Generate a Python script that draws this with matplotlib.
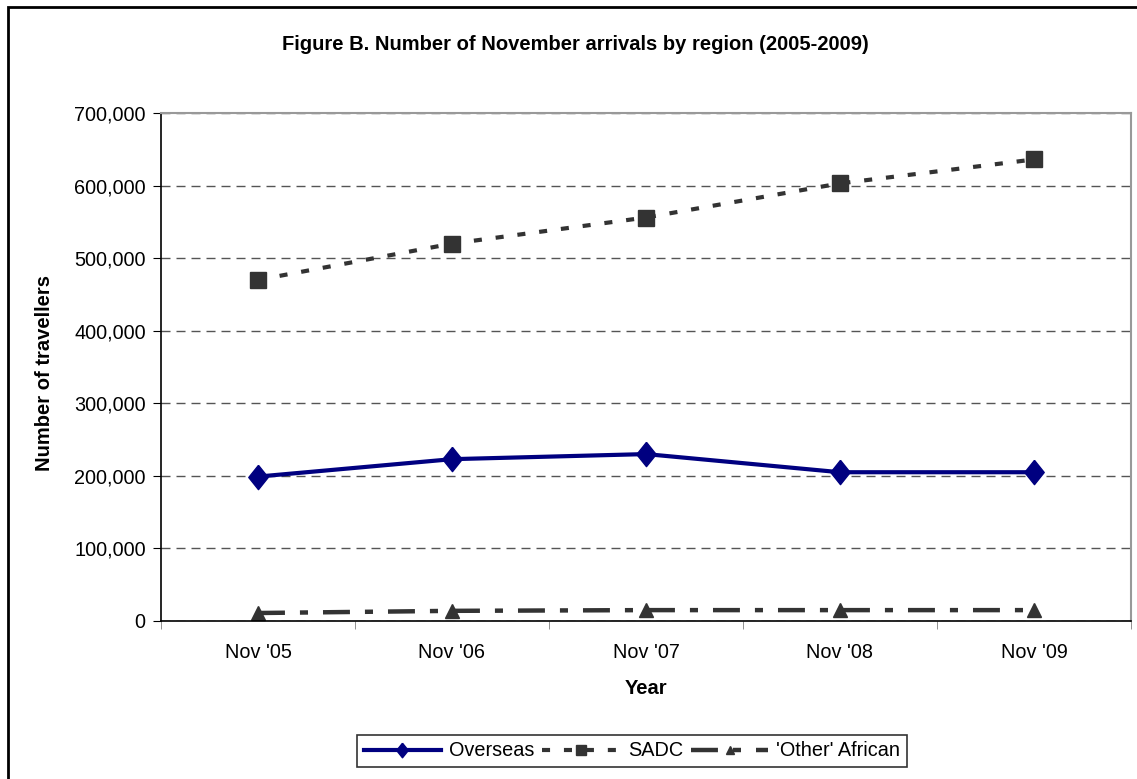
import matplotlib
matplotlib.use("Agg")
import matplotlib.pyplot as plt
from matplotlib.ticker import FuncFormatter, FixedLocator
from matplotlib.patches import Rectangle

plt.rcParams['font.family'] = ['Liberation Sans', 'DejaVu Sans']
plt.rcParams['lines.scale_dashes'] = False

years = ["Nov '05", "Nov '06", "Nov '07", "Nov '08", "Nov '09"]
overseas = [199000, 223000, 230000, 205000, 205000]
sadc = [470000, 520000, 556000, 603000, 636000]
other_african = [11000, 14000, 15000, 15000, 15000]

fig = plt.figure(figsize=(11.37, 7.79), dpi=100)
ax = fig.add_axes([161/1137, 1-621/779, (1131-161)/1137, (621-113)/779])

# diamond a bit narrower than tall, like the Excel one
diamond = [(0, 1), (0.8, 0), (0, -1), (-0.8, 0), (0, 1)]

x = list(range(len(years)))
ax.plot(x, overseas, color="#000080", lw=3, marker=diamond, markersize=17.5,
        label="Overseas")
ax.plot(x, sadc, color="#333333", lw=3, dashes=(5.8, 10), marker="s",
        markersize=11, label="SADC")
ax.plot(x, other_african, color="#333333", lw=3.2, dashes=(19.4, 10.8, 5.8, 10.8),
        marker="^", markersize=10, label="'Other' African")

ax.set_xlim(-0.5, 4.5)
ax.set_ylim(0, 700000)
ax.set_yticks(range(0, 700001, 100000))
ax.yaxis.set_major_formatter(FuncFormatter(lambda v, p: f"{int(v):,}"))
ax.set_xticks(x)
ax.set_xticklabels(years)
ax.xaxis.set_minor_locator(FixedLocator([-0.5, 0.5, 1.5, 2.5, 3.5, 4.5]))
ax.tick_params(axis="x", which="major", length=0, pad=16, labelsize=14.3)
ax.tick_params(axis="x", which="minor", length=6, direction="out", color="#808080")
ax.tick_params(axis="y", length=6, direction="out", labelsize=14.3, pad=5)

ax.grid(axis="y", color="#555555", lw=1, dashes=(6.5, 4.3))
ax.set_axisbelow(True)
for s in ["top", "right"]:
    ax.spines[s].set_color("#999999")
    ax.spines[s].set_linewidth(1.5)
for s in ["left", "bottom"]:
    ax.spines[s].set_color("black")
    ax.spines[s].set_linewidth(1.2)

fig.text(0.506, 1-45/779, "Figure B. Number of November arrivals by region (2005-2009)",
         ha="center", va="center", fontsize=14.5, fontweight="bold")
fig.text(45/1137, 1-373/779, "Number of travellers", rotation=90, ha="center",
         va="center", fontsize=14.5, fontweight="bold")
fig.text(646/1137, 1-689/779, "Year", ha="center", va="center", fontsize=14.5,
         fontweight="bold")

leg = fig.legend(loc="center", bbox_to_anchor=(632/1137, 1-751/779), ncol=3,
                 frameon=True, fancybox=False, fontsize=14.3, handlelength=3.9,
                 columnspacing=0.4, handletextpad=0.4, borderpad=0.35,
                 markerscale=0.6)
leg.get_frame().set_edgecolor("black")
leg.get_frame().set_linewidth(1.2)

fig.patches.append(Rectangle((8/1137, -0.05), 1.2, 1-7/779+0.05, transform=fig.transFigure,
                             fill=False, edgecolor="black", lw=2, zorder=0))

fig.savefig("out.png", dpi=100)
